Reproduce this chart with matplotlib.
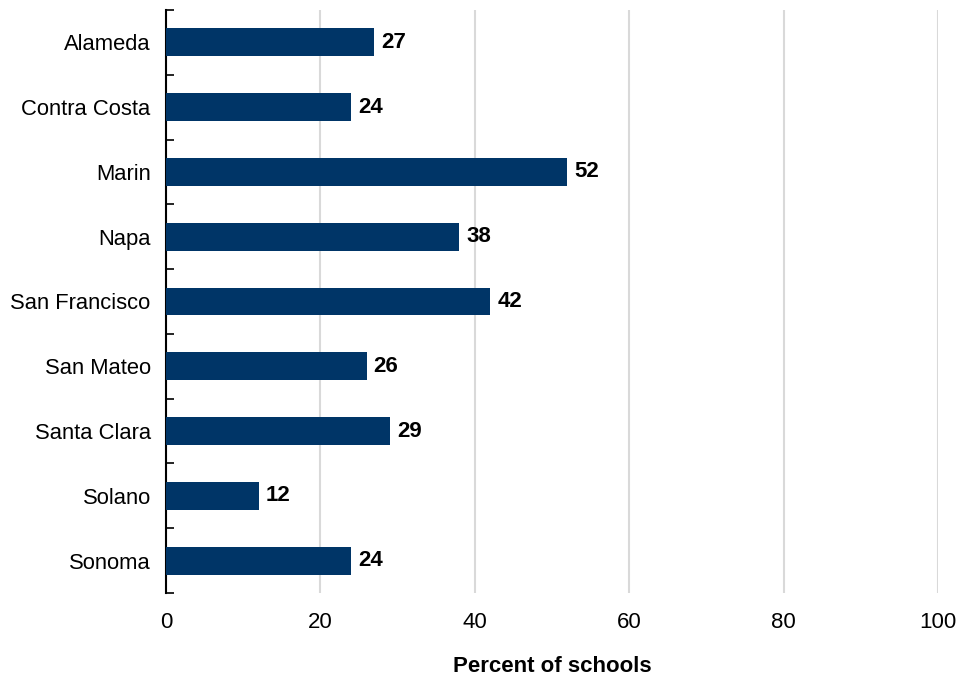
import matplotlib.pyplot as plt
import numpy as np

counties = ['Alameda', 'Contra Costa', 'Marin', 'Napa', 'San Francisco',
            'San Mateo', 'Santa Clara', 'Solano', 'Sonoma']
percents = [27, 24, 52, 38, 42, 26, 29, 12, 24]
x_ticks = [0, 20, 40, 60, 80, 100]

plt.rcParams['font.family'] = ['Liberation Sans', 'DejaVu Sans']

fig = plt.figure(figsize=(9.58, 6.79), dpi=100)
ax = fig.add_axes([0.1733, 0.1267, 0.8058, 0.8586])

pos = np.arange(len(counties))
ax.barh(pos, percents, height=0.43, color='#003567', zorder=3)
for y, v in zip(pos, percents):
    ax.text(v + 0.9, y, str(v), va='center', ha='left', fontsize=16,
            fontweight='bold', color='black')

ax.set_ylim(len(counties) - 0.5, -0.5)
ax.set_xlim(0, 100)
ax.set_yticks(pos)
ax.set_yticklabels(counties, fontsize=15.8)
ax.tick_params(axis='y', which='major', length=0, pad=11)
# boundary ticks on the category axis
ax.set_yticks(np.arange(-0.5, len(counties)), minor=True)
ax.tick_params(axis='y', which='minor', direction='in', length=6, width=1.2)

ax.set_xticks(x_ticks)
ax.set_xticklabels([str(t) for t in x_ticks], fontsize=16)
ax.tick_params(axis='x', length=0, pad=14)
ax.xaxis.grid(True, color='#d9d9d9', linewidth=1.5, zorder=0)

for side in ['top', 'right', 'bottom']:
    ax.spines[side].set_visible(False)
ax.spines['left'].set_linewidth(1.5)

ax.set_xlabel('Percent of schools', fontsize=16, fontweight='bold', labelpad=16)

fig.savefig('out.png', dpi=100)
